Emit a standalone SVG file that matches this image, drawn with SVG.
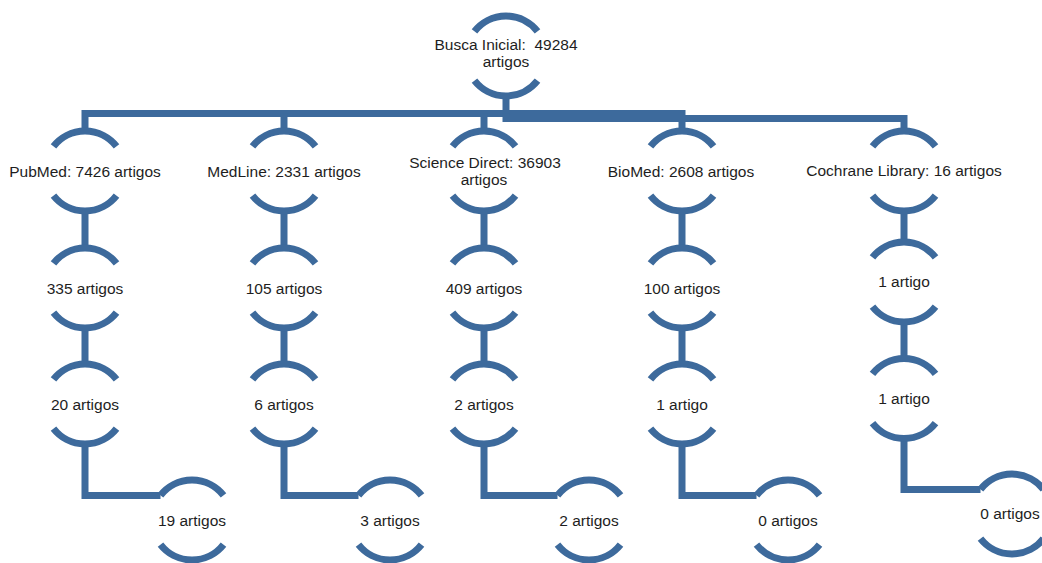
<svg xmlns="http://www.w3.org/2000/svg" xmlns:xlink="http://www.w3.org/1999/xlink" width="1042" height="563" viewBox="0 0 1042 563">
<style>
.t{font-family:"Liberation Sans",Arial,sans-serif;font-size:15.5px;fill:#1e1e1e;text-anchor:middle}
.a{fill:none;stroke:#3D6A9C;stroke-width:7;stroke-linecap:butt}
.c{fill:none;stroke:#3D6A9C;stroke-width:7;stroke-linejoin:miter;stroke-linecap:butt}
</style>
<defs>
<path id="n" class="a" d="M-31.5,-24.6 A40,40 0 0 1 31.5,-24.6 M-31.5,24.6 A40,40 0 0 0 31.5,24.6"/>
</defs>
<rect width="1042" height="563" fill="#fff"/>
<g id="connectors">
<path class="c" d="M506,96 V114"/>
<path class="c" d="M85,131 V113.5 H682 V131"/>
<path class="c" d="M284,113.5 V131 M484,113.5 V131"/>
<path class="c" d="M506,113.5 V118.5 H904 V131"/>
<path class="c" d="M85,211 V248 M85,328 V364 M85,444 V495.4 H160.5"/>
<path class="c" d="M284,211 V248 M284,328 V364 M284,444 V495.4 H358.5"/>
<path class="c" d="M484,211 V248 M484,328 V364 M484,444 V495.4 H557.5"/>
<path class="c" d="M682,211 V248 M682,328 V364 M682,444 V495.4 H756.5"/>
<path class="c" d="M904,211 V242 M904,322 V358.5 M904,438.5 V489.4 H980.5"/>
</g>
<g id="node-root"><use xlink:href="#n" href="#n" x="506" y="56"/><text class="t" x="506" y="50" xml:space="preserve">Busca Inicial:  49284</text><text class="t" x="506" y="66.7">artigos</text></g>
<g id="node-pubmed"><use xlink:href="#n" href="#n" x="85" y="171"/><text class="t" x="85" y="176.5">PubMed: 7426 artigos</text></g>
<g id="node-medline"><use xlink:href="#n" href="#n" x="284" y="171"/><text class="t" x="284" y="176.5">MedLine: 2331 artigos</text></g>
<g id="node-sciencedirect"><use xlink:href="#n" href="#n" x="484" y="171"/><text class="t" x="485" y="168.3">Science Direct: 36903</text><text class="t" x="484" y="185">artigos</text></g>
<g id="node-biomed"><use xlink:href="#n" href="#n" x="682" y="171"/><text class="t" x="681" y="176.5">BioMed: 2608 artigos</text></g>
<g id="node-cochrane"><use xlink:href="#n" href="#n" x="904" y="171"/><text class="t" x="904" y="175.5">Cochrane Library: 16 artigos</text></g>
<g id="node-pubmed-2"><use xlink:href="#n" href="#n" x="85" y="288"/><text class="t" x="85" y="293.5">335 artigos</text></g>
<g id="node-medline-2"><use xlink:href="#n" href="#n" x="284" y="288"/><text class="t" x="284" y="293.5">105 artigos</text></g>
<g id="node-sciencedirect-2"><use xlink:href="#n" href="#n" x="484" y="288"/><text class="t" x="484" y="293.5">409 artigos</text></g>
<g id="node-biomed-2"><use xlink:href="#n" href="#n" x="682" y="288"/><text class="t" x="682" y="293.5">100 artigos</text></g>
<g id="node-cochrane-2"><use xlink:href="#n" href="#n" x="904" y="282"/><text class="t" x="904" y="287">1 artigo</text></g>
<g id="node-pubmed-3"><use xlink:href="#n" href="#n" x="85" y="404"/><text class="t" x="85" y="410">20 artigos</text></g>
<g id="node-medline-3"><use xlink:href="#n" href="#n" x="284" y="404"/><text class="t" x="284" y="410">6 artigos</text></g>
<g id="node-sciencedirect-3"><use xlink:href="#n" href="#n" x="484" y="404"/><text class="t" x="484" y="410">2 artigos</text></g>
<g id="node-biomed-3"><use xlink:href="#n" href="#n" x="682" y="404"/><text class="t" x="682" y="410">1 artigo</text></g>
<g id="node-cochrane-3"><use xlink:href="#n" href="#n" x="904" y="398.5"/><text class="t" x="904" y="403.5">1 artigo</text></g>
<g id="node-pubmed-4"><use xlink:href="#n" href="#n" x="192" y="520"/><text class="t" x="192" y="526">19 artigos</text></g>
<g id="node-medline-4"><use xlink:href="#n" href="#n" x="390" y="520"/><text class="t" x="390" y="526">3 artigos</text></g>
<g id="node-sciencedirect-4"><use xlink:href="#n" href="#n" x="589" y="520"/><text class="t" x="589" y="526">2 artigos</text></g>
<g id="node-biomed-4"><use xlink:href="#n" href="#n" x="788" y="520"/><text class="t" x="788" y="526">0 artigos</text></g>
<g id="node-cochrane-4"><use xlink:href="#n" href="#n" x="1012" y="514"/><text class="t" x="1010" y="519">0 artigos</text></g>
</svg>
